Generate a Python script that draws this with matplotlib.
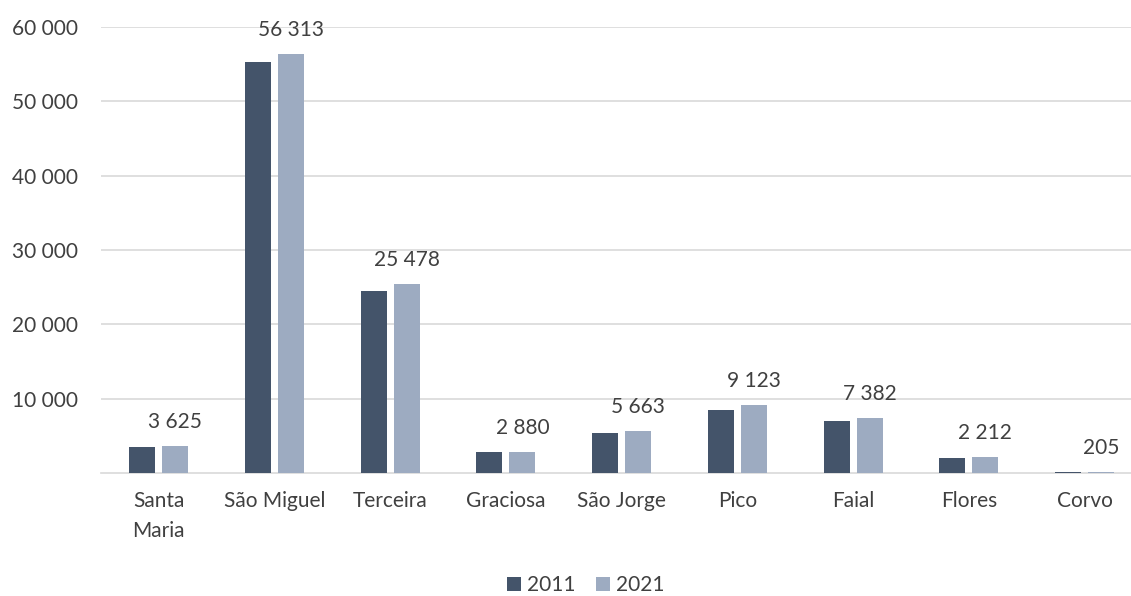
import numpy as np
import matplotlib
matplotlib.use('Agg')
import matplotlib.pyplot as plt
from matplotlib.ticker import FuncFormatter

plt.rcParams['font.family'] = ['Lato', 'DejaVu Sans']

islands = ['Santa\nMaria', 'São Miguel', 'Terceira', 'Graciosa', 'São Jorge',
           'Pico', 'Faial', 'Flores', 'Corvo']
v2011 = [3590, 55200, 24550, 2800, 5420, 8550, 7030, 2100, 190]
v2021 = [3625, 56313, 25478, 2880, 5663, 9123, 7382, 2212, 205]

c2011 = '#44546A'
c2021 = '#9DABC1'
txt = '#404040'

fig = plt.figure(figsize=(11.31, 5.96), dpi=100)
ax = fig.add_axes([100.6/1131, 1-473.3/596, 1042/1131, 446.6/596])

x = np.arange(len(islands))
w = 0.2245
off = 0.1425
ax.bar(x - off, v2011, w, color=c2011, label='2011', zorder=3)
ax.bar(x + off, v2021, w, color=c2021, label='2021', zorder=3)

def fmt(v, pos=None):
    return f'{int(v):,}'.replace(',', ' ')

# labels only on the 2021 bars
for xi, v in zip(x, v2021):
    ax.annotate(fmt(v), (xi + off, v), xytext=(0, 13), textcoords='offset points',
                ha='center', va='baseline', fontsize=15, color=txt)

ax.set_xlim(-0.5, len(islands) - 0.5)
ax.set_ylim(0, 60000)
ax.set_yticks([10000, 20000, 30000, 40000, 50000, 60000])
ax.yaxis.set_major_formatter(FuncFormatter(fmt))
ax.set_xticks(x)
ax.set_xticklabels(islands, linespacing=1.6)
ax.tick_params(axis='both', length=0, labelsize=15, colors=txt)
ax.tick_params(axis='x', pad=13)
ax.tick_params(axis='y', pad=16)

ax.grid(axis='y', color='#D9D9D9', linewidth=1.2, zorder=0)
for s in ['top', 'right', 'left']:
    ax.spines[s].set_visible(False)
ax.spines['bottom'].set_color('#D9D9D9')
ax.spines['bottom'].set_linewidth(1.2)

fig.legend(loc='center', bbox_to_anchor=(586/1131, 1-585/596), ncol=2,
           frameon=False, fontsize=15, handlelength=0.65, handleheight=0.65,
           handletextpad=0.3, columnspacing=1.0, labelcolor=txt)

fig.savefig('out.png', dpi=100)
